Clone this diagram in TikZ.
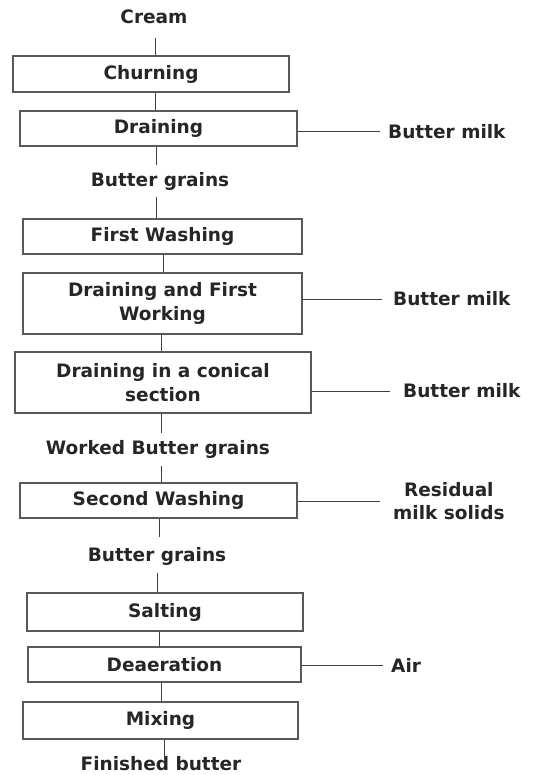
\documentclass[tikz,border=0pt]{standalone}
\usepackage{fontspec}
\setmainfont{DejaVu Sans}
\begin{document}
\begin{tikzpicture}[x=1pt,y=-1pt,
  every node/.style={font=\fontsize{18.5}{23.5}\selectfont\bfseries, text=black!85},
  box/.style={draw=black!65, line width=1.2pt, inner sep=0pt, align=center},
  lbl/.style={inner sep=0pt, text height=13pt, text depth=4pt},
  side/.style={inner sep=0pt, anchor=west, align=center},
  conn/.style={draw=black!75, line width=1pt}]
\useasboundingbox (0,0) rectangle (538,775);

% process boxes
\node[box, minimum width=276pt, minimum height=36pt] (churn) at (151,74) {Churning};
\node[box, minimum width=277pt, minimum height=35pt] (drain) at (158.5,128.5) {Draining};
\node[box, minimum width=279pt, minimum height=35pt] (wash1) at (162.5,236.5) {First Washing};
\node[box, minimum width=279pt, minimum height=61pt] (dfw) at (162.5,303.5) {Draining and First\\Working};
\node[box, minimum width=296pt, minimum height=61pt] (cone) at (163,382.5) {Draining in a conical\\section};
\node[box, minimum width=277pt, minimum height=35pt] (wash2) at (158.5,500.5) {Second Washing};
\node[box, minimum width=276pt, minimum height=38pt] (salt) at (165,612) {Salting};
\node[box, minimum width=273pt, minimum height=35pt] (deaer) at (164.5,664.5) {Deaeration};
\node[box, minimum width=275pt, minimum height=37pt] (mix) at (160.5,720.5) {Mixing};

% product labels on the main line
\node[lbl] (cream) at (154,19) {Cream};
\node[lbl] (bg1) at (160,182) {Butter grains};
\node[lbl] (wbg) at (158,450) {Worked Butter grains};
\node[lbl] (bg2) at (157,557) {Butter grains};
\node[lbl] (fin) at (161,766) {Finished butter};

% side streams
\node[side] (bm1) at (388,132) {Butter milk};
\node[side] (bm2) at (393,299) {Butter milk};
\node[side] (bm3) at (403,391) {Butter milk};
\node[side] (rms) at (393,501) {Residual\\milk solids};
\node[side] (air) at (391,665) {Air};

% main line connectors
\draw[conn, shorten <=10.5pt] ([xshift=1pt]cream.south) -- ([xshift=1pt]cream.south |- churn.north);
\draw[conn] ([xshift=4pt]churn.south) -- ([xshift=4pt]churn.south |- drain.north);
\draw[conn, shorten >=8.5pt] ([xshift=-2.5pt]drain.south) -- ([xshift=-2.5pt]drain.south |- bg1.north);
\draw[conn, shorten <=6.5pt] ([xshift=-4pt]bg1.south) -- ([xshift=-4pt]bg1.south |- wash1.north);
\draw[conn] ([xshift=0.5pt]wash1.south) -- ([xshift=0.5pt]wash1.south |- dfw.north);
\draw[conn] ([xshift=-1.5pt]dfw.south) -- ([xshift=-1.5pt]dfw.south |- cone.north);
\draw[conn, shorten >=8.5pt] ([xshift=-2pt]cone.south) -- ([xshift=-2pt]cone.south |- wbg.north);
\draw[conn, shorten <=7.5pt] ([xshift=3pt]wbg.south) -- ([xshift=3pt]wbg.south |- wash2.north);
\draw[conn, shorten >=11.5pt] ([xshift=0.5pt]wash2.south) -- ([xshift=0.5pt]wash2.south |- bg2.north);
\draw[conn, shorten <=7.5pt] (bg2.south) -- (bg2.south |- salt.north);
\draw[conn] ([xshift=-6pt]salt.south) -- ([xshift=-6pt]salt.south |- deaer.north);
\draw[conn] ([xshift=-3.5pt]deaer.south) -- ([xshift=-3.5pt]deaer.south |- mix.north);
\draw[conn, shorten >=1.5pt] ([xshift=3.5pt]mix.south) -- ([xshift=3.5pt]mix.south |- fin.north);

% side connectors
\draw[conn, shorten >=8pt] (drain.east |- bm1.west) -- (bm1.west);
\draw[conn, shorten >=11pt] (dfw.east |- bm2.west) -- (bm2.west);
\draw[conn, shorten >=13pt] (cone.east |- bm3.west) -- (bm3.west);
\draw[conn, shorten >=13pt] (wash2.east |- rms.west) -- (rms.west);
\draw[conn, shorten >=8pt] (deaer.east |- air.west) -- (air.west);
\end{tikzpicture}
\end{document}
